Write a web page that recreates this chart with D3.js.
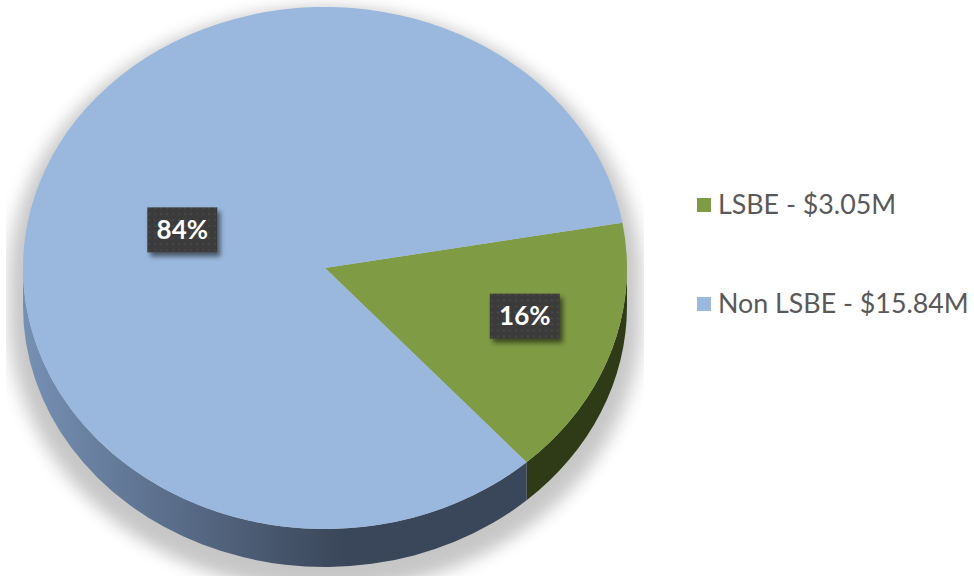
<!DOCTYPE html>
<html>
<head>
<meta charset="utf-8">
<script src="https://cdn.jsdelivr.net/npm/d3@7/dist/d3.min.js"></script>
<style>
  body { margin: 0; background: #fff; }
  svg { display: block; }
</style>
</head>
<body>
<svg id="chart" width="974" height="576"></svg>
<script>
// data
const categories = ["LSBE", "Non LSBE"];
const amounts = [3.05, 15.84];          // $M
const shareLabels = ["16%", "84%"];
const legendLabels = ["LSBE - $3.05M", "Non LSBE - $15.84M"];

const topColors = ["#7f9b44", "#9ab8dd"];
const sideColors = ["#2f3b17", "url(#blueSide)"];

// layout
const cx = 325, cy = 268, rx = 302, ry = 261, depth = 38;
const k = ry / rx;                     // vertical squash of the pie
const firstAngle = 80 * Math.PI / 180; // angle of first slice

const svg = d3.select("#chart");
const defs = svg.append("defs");

const grad = defs.append("linearGradient")
  .attr("id", "blueSide")
  .attr("gradientUnits", "userSpaceOnUse")
  .attr("x1", -rx).attr("x2", 20).attr("y1", 0).attr("y2", 0);
grad.append("stop").attr("offset", 0).attr("stop-color", "#7690b4");
grad.append("stop").attr("offset", 1).attr("stop-color", "#3a4659");

const blur = defs.append("filter").attr("id", "pieShadow")
  .attr("x", -0.2).attr("y", -0.2).attr("width", 1.4).attr("height", 1.4);
blur.append("feGaussianBlur").attr("stdDeviation", 9);

defs.append("clipPath").attr("id", "plotClip")
  .append("rect").attr("x", 6).attr("y", 0).attr("width", 638).attr("height", 576);

const boxShadow = defs.append("filter").attr("id", "boxShadow")
  .attr("x", -0.3).attr("y", -0.3).attr("width", 1.6).attr("height", 1.6);
boxShadow.append("feDropShadow")
  .attr("dx", 3).attr("dy", 4).attr("stdDeviation", 2.5)
  .attr("flood-color", "#000").attr("flood-opacity", 0.55);

const dots = defs.append("pattern").attr("id", "dots")
  .attr("patternUnits", "userSpaceOnUse").attr("width", 6).attr("height", 6);
dots.append("rect").attr("width", 6).attr("height", 6).attr("fill", "#3a3a3a");
dots.append("rect").attr("x", 2).attr("y", 2).attr("width", 2).attr("height", 1.5).attr("fill", "#4b4b4b");

const pie = d3.pie().sort(null)
  .startAngle(firstAngle).endAngle(firstAngle + 2 * Math.PI);
const arcs = pie(amounts);

const D = depth / k;

// shadow under the pie, clipped to the plot area
const shadowPath = d3.path();
const sr = rx + 14;
shadowPath.arc(0, 0, sr, Math.PI, 0, false);
shadowPath.arc(0, D, sr, 0, Math.PI, false);
shadowPath.closePath();
svg.append("g").attr("clip-path", "url(#plotClip)")
  .append("path")
  .attr("d", shadowPath.toString())
  .attr("transform", `translate(${cx},${cy + 12}) scale(1,${k})`)
  .attr("fill", "#000").attr("opacity", 0.22)
  .attr("filter", "url(#pieShadow)");

// everything drawn round (0,0) as a circle, then squashed into an ellipse
const g = svg.append("g")
  .attr("transform", `translate(${cx},${cy}) scale(1,${k})`);

// side walls: only the front half (d3 angles pi/2 .. 3pi/2) can be seen
function sidePath(a0, a1) {
  const p = d3.path();
  const t0 = a0 - Math.PI / 2, t1 = a1 - Math.PI / 2;
  p.moveTo(rx * Math.cos(t0), rx * Math.sin(t0));
  p.arc(0, 0, rx, t0, t1, false);
  p.lineTo(rx * Math.cos(t1), rx * Math.sin(t1) + D);
  p.arc(0, D, rx, t1, t0, true);
  p.closePath();
  return p.toString();
}

arcs.forEach((d, i) => {
  for (let turn = 0; turn < 2; turn++) {
    const lo = Math.PI / 2 + turn * 2 * Math.PI, hi = 3 * Math.PI / 2 + turn * 2 * Math.PI;
    const a0 = Math.max(d.startAngle, lo), a1 = Math.min(d.endAngle, hi);
    if (a1 > a0) {
      g.append("path").attr("d", sidePath(a0, a1)).attr("fill", sideColors[i]);
    }
  }
});

// top faces
const arc = d3.arc().innerRadius(0).outerRadius(rx);
g.selectAll("path.top")
  .data(arcs)
  .enter().append("path")
  .attr("class", "top")
  .attr("d", arc)
  .attr("fill", (d, i) => topColors[i]);

// percent labels
const labelFrac = [0.7, 0.5];
const labelLift = [-12, 4];
arcs.forEach((d, i) => {
  const r = rx * labelFrac[i];
  const [lx, ly] = d3.arc().innerRadius(r).outerRadius(r).centroid(d);
  const x = cx + lx, y = cy + ly * k + labelLift[i];
  const lg = svg.append("g").attr("transform", `translate(${x},${y})`);
  lg.append("rect")
    .attr("x", -35).attr("y", -22).attr("width", 70).attr("height", 45)
    .attr("fill", "url(#dots)")
    .attr("filter", "url(#boxShadow)");
  lg.append("text")
    .attr("text-anchor", "middle").attr("dy", "0.37em")
    .attr("fill", "#fff")
    .attr("font-family", "Lato, 'Open Sans', sans-serif")
    .attr("font-weight", "bold").attr("font-size", 26)
    .text(shareLabels[i]);
});

// legend
const legend = svg.append("g").attr("transform", "translate(697,0)");
const legendY = [205, 304];
categories.forEach((c, i) => {
  legend.append("rect")
    .attr("x", 0).attr("y", legendY[i] - 7).attr("width", 14).attr("height", 14)
    .attr("fill", topColors[i]);
  legend.append("text")
    .attr("x", 21).attr("y", legendY[i]).attr("dy", "0.35em")
    .attr("fill", "#595959")
    .attr("font-family", "Lato, 'Open Sans', sans-serif")
    .attr("font-size", 26.8)
    .text(legendLabels[i]);
});
</script>
</body>
</html>
